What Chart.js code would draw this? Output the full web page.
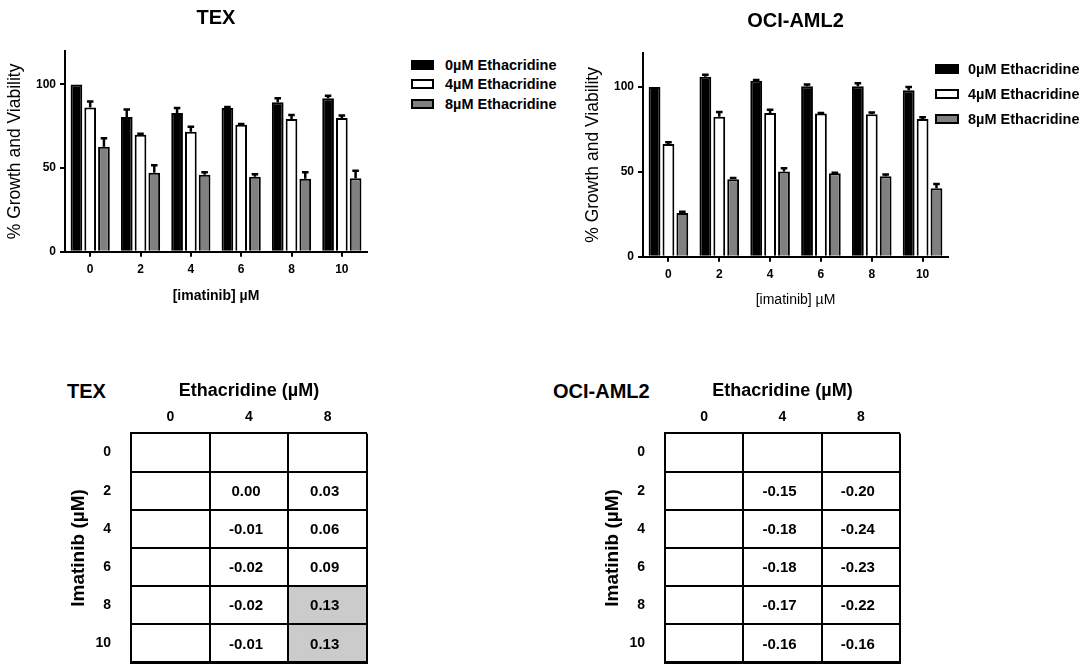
<!DOCTYPE html>
<html>
<head>
<meta charset="utf-8">
<script src="https://cdn.jsdelivr.net/npm/chart.js@4.4.1/dist/chart.umd.min.js"></script>
<style>
  body { margin: 0; background: #fff; width: 1087px; height: 664px; overflow: hidden; position: relative;
         font-family: "Liberation Sans", Arial, sans-serif; color: #000; }
  canvas { position: absolute; }
  .legend { position: absolute; font-weight: bold; font-size: 14.5px; z-index: 2; }
  .legend .row { display: flex; align-items: center; }
  .legend .sw { box-sizing: border-box; height: 10px; border: 2px solid #000; }
  .lbl { position: absolute; font-weight: bold; font-size: 20px; line-height: 20px; }
</style>
</head>
<body>
<canvas id="texBars" width="400" height="310" style="left:0;top:0"></canvas>
<canvas id="ociBars" width="380" height="310" style="left:580px;top:3px"></canvas>
<div class="legend" id="texLegend" style="left:411px;top:55px"></div>
<div class="legend" id="ociLegend" style="left:935px;top:56px"></div>

<div class="lbl" style="left:67px;top:381px">TEX</div>
<div class="lbl" style="left:553px;top:381px">OCI-AML2</div>
<canvas id="texTable" width="320" height="294" style="left:60px;top:370px"></canvas>
<canvas id="ociTable" width="360" height="294" style="left:550px;top:370px"></canvas>

<script>
// bar charts: % growth and viability vs imatinib dose
const imatinibDoses = ['0', '2', '4', '6', '8', '10'];
const seriesLabels = ['0\u00b5M Ethacridine', '4\u00b5M Ethacridine', '8\u00b5M Ethacridine'];
const yTicks = [0, 50, 100];

const tex0 = [100, 80.5, 83, 86, 89.3, 91.7];
const tex0Err = [0, 4.5, 3, 0.5, 2.5, 1.5];
const tex4 = [86.3, 70, 71.7, 76, 79.3, 80];
const tex4Err = [3.5, 0.5, 3, 0.3, 2.5, 1.5];
const tex8 = [62.8, 47.2, 46, 44.8, 43.6, 44];
const tex8Err = [5, 4.5, 1.5, 1.5, 4, 4.5];

const oci0 = [100, 106, 103.6, 100.4, 100.4, 98];
const oci0Err = [0, 1.2, 0.5, 1, 1.8, 2];
const oci4 = [66.4, 82.4, 84.6, 84.4, 84, 81.2];
const oci4Err = [1, 2.8, 2, 0.3, 1, 1];
const oci8 = [25.8, 45.6, 50.2, 49.2, 47.4, 40.4];
const oci8Err = [0.7, 0.8, 2, 0.3, 1, 2.4];

// combination index tables
const tableRows = ['0', '2', '4', '6', '8', '10'];
const tableCols = ['0', '4', '8'];
const texCI0 = [null, null, null, null, null, null];
const texCI4 = [null, 0.00, -0.01, -0.02, -0.02, -0.01];
const texCI8 = [null, 0.03, 0.06, 0.09, 0.13, 0.13];
const ociCI0 = [null, null, null, null, null, null];
const ociCI4 = [null, -0.15, -0.18, -0.18, -0.17, -0.16];
const ociCI8 = [null, -0.20, -0.24, -0.23, -0.22, -0.16];
const shadeAbove = 0.1;

const barFills = ['#000', '#fff', '#808080'];
Chart.defaults.font.family = '"Liberation Sans", Arial, sans-serif';
Chart.defaults.color = '#000';

const errorBars = {
  id: 'errorBars',
  afterDatasetsDraw(chart) {
    const ctx = chart.ctx;
    const yScale = chart.scales.y;
    chart.data.datasets.forEach((ds, i) => {
      chart.getDatasetMeta(i).data.forEach((bar, j) => {
        const e = ds.err[j];
        if (!e) return;
        const top = yScale.getPixelForValue(ds.data[j] + e);
        const cap = bar.width * 0.28;
        ctx.save();
        ctx.strokeStyle = '#000';
        ctx.lineWidth = 2.5;
        ctx.beginPath();
        ctx.moveTo(bar.x, bar.y);
        ctx.lineTo(bar.x, top);
        ctx.moveTo(bar.x - cap, top);
        ctx.lineTo(bar.x + cap, top);
        ctx.stroke();
        ctx.restore();
      });
    });
  }
};

// title centred over the plot area rather than the whole canvas
const plotTitle = {
  id: 'plotTitle',
  afterDraw(chart, args, opts) {
    const ctx = chart.ctx;
    const a = chart.chartArea;
    ctx.save();
    ctx.font = 'bold 20px "Liberation Sans", Arial, sans-serif';
    ctx.fillStyle = '#000';
    ctx.textAlign = 'center';
    ctx.textBaseline = 'middle';
    ctx.fillText(opts.text, (a.left + a.right) / 2, opts.y);
    ctx.restore();
  }
};

function makeBars(id, title, series, errs, xTitleWeight, pad, xTitlePad) {
  return new Chart(document.getElementById(id), {
    type: 'bar',
    data: {
      labels: imatinibDoses,
      datasets: series.map((s, i) => ({
        label: seriesLabels[i], data: s, err: errs[i], backgroundColor: barFills[i]
      }))
    },
    options: {
      responsive: false,
      animation: false,
      datasets: { bar: { borderColor: '#000', borderWidth: 2, categoryPercentage: 0.82, barPercentage: 0.85 } },
      layout: { padding: pad },
      plugins: {
        legend: { display: false },
        tooltip: { enabled: false },
        title: { display: false },
        plotTitle: { text: title, y: 18 }
      },
      scales: {
        x: {
          grid: { drawOnChartArea: false, offset: false, color: '#000', lineWidth: 2, tickLength: 5 },
          border: { color: '#000', width: 2 },
          ticks: { font: { size: 12, weight: 'bold' }, padding: 6 },
          title: { display: true, text: '[imatinib] \u00b5M', font: { size: 14, weight: xTitleWeight }, padding: { top: xTitlePad, bottom: 0 } }
        },
        y: {
          min: 0, max: 120,
          afterBuildTicks: s => { s.ticks = yTicks.map(v => ({ value: v })); },
          grid: { drawOnChartArea: false, color: '#000', lineWidth: 2, tickLength: 5 },
          border: { color: '#000', width: 2 },
          ticks: { font: { size: 12, weight: 'bold' }, padding: 4 },
          title: { display: true, text: '% Growth and Viability', font: { size: 17.5 }, padding: { top: 0, bottom: 6 } }
        }
      }
    },
    plugins: [errorBars, plotTitle]
  });
}

function makeLegend(id, rowH, swW, gap) {
  const el = document.getElementById(id);
  seriesLabels.forEach((t, i) => {
    const row = document.createElement('div');
    row.className = 'row';
    row.style.height = rowH + 'px';
    const sw = document.createElement('div');
    sw.className = 'sw';
    sw.style.width = swW + 'px';
    sw.style.marginRight = gap + 'px';
    sw.style.background = barFills[i];
    const tx = document.createElement('span');
    tx.textContent = t;
    row.appendChild(sw);
    row.appendChild(tx);
    el.appendChild(row);
  });
}

const cellText = {
  id: 'cellText',
  afterDraw(chart) {
    const ctx = chart.ctx;
    chart.data.datasets.forEach((ds, i) => {
      chart.getDatasetMeta(i).data.forEach((bar, j) => {
        const v = ds.cellValues[j];
        if (v === null) return;
        const p = bar.getProps(['x', 'y', 'base'], true);
        ctx.save();
        ctx.font = 'bold 15px "Liberation Sans", Arial, sans-serif';
        ctx.fillStyle = '#000';
        ctx.textAlign = 'center';
        ctx.textBaseline = 'middle';
        ctx.fillText(v.toFixed(2), (p.x + p.base) / 2 - 3, p.y + 1);
        ctx.restore();
      });
    });
  }
};

function makeTable(id, cols, pad) {
  return new Chart(document.getElementById(id), {
    type: 'bar',
    data: {
      labels: tableRows,
      datasets: cols.map((vals, c) => ({
        data: tableRows.map(() => [c, c + 1]),
        cellValues: vals,
        backgroundColor: vals.map(v => (v !== null && v > shadeAbove) ? '#cbcbcb' : '#fff'),
        borderWidth: 0,
        grouped: false,
        barPercentage: 1,
        categoryPercentage: 1
      }))
    },
    options: {
      indexAxis: 'y',
      responsive: false,
      animation: false,
      layout: { padding: pad },
      plugins: { legend: { display: false }, tooltip: { enabled: false } },
      scales: {
        x: {
          type: 'linear', min: 0, max: 3, position: 'bottom',
          ticks: { display: false, stepSize: 1 },
          grid: { color: '#000', lineWidth: 2, drawTicks: false, z: 1 },
          border: { display: true, color: '#000', width: 2, z: 1 },
          afterFit: s => { s.height = 0; s.paddingLeft = 0; s.paddingRight = 0; }
        },
        x2: {
          type: 'category', axis: 'x', position: 'top', labels: tableCols, offset: true,
          grid: { display: false, drawTicks: false }, border: { display: false },
          ticks: { font: { size: 14, weight: 'bold' }, padding: 8 },
          title: { display: true, text: 'Ethacridine (\u00b5M)', font: { size: 18, weight: 'bold' }, padding: { top: 0, bottom: 7 } },
          afterFit: s => { s.height = 53.4; s.paddingLeft = 0; s.paddingRight = 0; }
        },
        y: {
          type: 'category', offset: true,
          grid: { offset: true, color: '#000', lineWidth: 2, drawTicks: false, z: 1 },
          border: { display: true, color: '#000', width: 2, z: 1 },
          ticks: { font: { size: 14, weight: 'bold' }, padding: 20 },
          title: { display: true, text: 'Imatinib (\u00b5M)', font: { size: 19, weight: 'bold' }, padding: { top: 0, bottom: 6 } },
          afterFit: s => { s.width = 64; s.paddingTop = 0; s.paddingBottom = 0; }
        }
      }
    },
    plugins: [cellText]
  });
}

makeBars('texBars', 'TEX', [tex0, tex4, tex8], [tex0Err, tex4Err, tex8Err], 'bold', { top: 51, left: 5, right: 33, bottom: 5 }, 5);
makeBars('ociBars', 'OCI-AML2', [oci0, oci4, oci8], [oci0Err, oci4Err, oci8Err], 'normal', { top: 50, left: 3, right: 12, bottom: 4 }, 4);
makeLegend('texLegend', 19.5, 23, 11);
makeLegend('ociLegend', 25, 24, 9);
makeTable('texTable', [texCI0, texCI4, texCI8], { top: 10, left: 7, right: 13, bottom: 1.5 });
makeTable('ociTable', [ociCI0, ociCI4, ociCI8], { top: 10, left: 51, right: 10, bottom: 1.5 });
</script>
</body>
</html>
